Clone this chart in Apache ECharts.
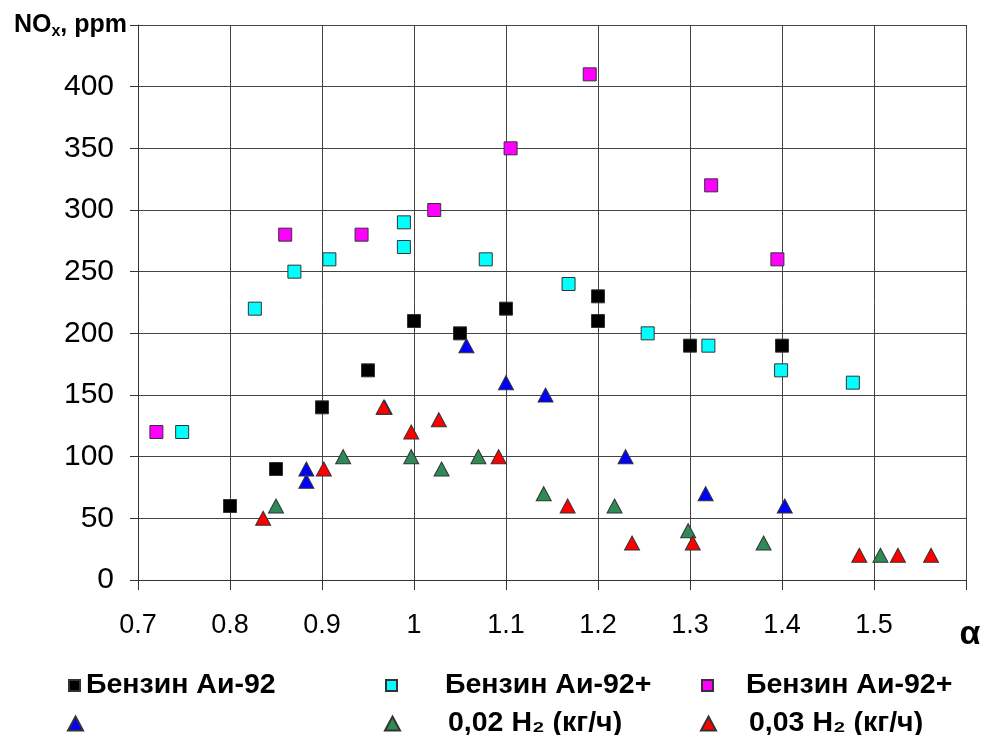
<!DOCTYPE html>
<html><head><meta charset="utf-8">
<script src="https://cdn.jsdelivr.net/npm/echarts@6/dist/echarts.min.js"></script>
<style>html,body{margin:0;padding:0;background:#fff}#c{width:987px;height:735px}</style>
</head><body><div id="c"></div>
<script>
// ---- data (alpha, NOx ppm) ----
const xMin = 0.7, xMax = 1.6, xStep = 0.1;
const yMin = 0, yMax = 450, yStep = 50;
const xTitle = 'α';

const benzin92 = [[0.80,60],[0.85,90],[0.90,140],[0.95,170],[1.00,210],[1.05,200],[1.10,220],[1.20,230],[1.20,210],[1.30,190],[1.40,190]];
const benzin92h002sq = [[0.748,120],[0.827,220],[0.870,250],[0.908,260],[0.989,290],[0.989,270],[1.078,260],[1.168,240],[1.254,200],[1.320,190],[1.399,170],[1.477,160]];
const benzin92h003sq = [[0.720,120],[0.860,280],[0.943,280],[1.022,300],[1.105,350],[1.191,410],[1.323,320],[1.395,260]];
const blueTri = [[0.883,90],[0.883,80],[0.968,140],[1.057,190],[1.100,160],[1.143,150],[1.230,100],[1.317,70],[1.403,60]];
const greenTri = [[0.850,60],[0.923,100],[0.997,100],[1.030,90],[1.070,100],[1.141,70],[1.218,60],[1.298,40],[1.380,30],[1.507,20]];
const redTri = [[0.836,50],[0.902,90],[0.967,140],[0.997,120],[1.027,130],[1.092,100],[1.167,60],[1.237,30],[1.303,30],[1.484,20],[1.526,20],[1.562,20]];

const seriesNames = ['s1','s2','s3','s4','s5','s6'];
const legendTexts = ['Бензин Аи-92','Бензин Аи-92+','Бензин Аи-92+','','0,02 H₂ (кг/ч)','0,03 H₂ (кг/ч)'];
const seriesData = [benzin92, benzin92h002sq, benzin92h003sq, blueTri, greenTri, redTri];
const seriesColors = ['#000000','#00ffff','#ff00ff','#0000ff','#2e8b57','#ff0000'];
const seriesSymbols = ['rect','rect','rect','triangle','triangle','triangle'];

// ---- chart ----
const chart = echarts.init(document.getElementById('c'), null, {renderer:'canvas'});
const sans = "'Liberation Sans',Arial,sans-serif";
const legendPos = [[63,666],[380,666],[696,666],[62,704],[379,704],[695,704]];
const legendGap = [6, 48, 33, 6, 48, 33];

const series = seriesNames.map((n,i)=>({
  name:n, type:'scatter', data:seriesData[i], symbol:seriesSymbols[i],
  symbolSize: seriesSymbols[i]==='rect' ? 13 : [15,14],
  itemStyle:{color:seriesColors[i], borderColor:'#333', borderWidth:1, opacity:1},
  emphasis:{disabled:true}, z: 2+i
}));

const legends = seriesNames.map((n,i)=>({
  data:[{name:n, icon: seriesSymbols[i]}],
  left:legendPos[i][0], top:legendPos[i][1],
  itemWidth: seriesSymbols[i]==='rect' ? 11 : 15,
  itemHeight: seriesSymbols[i]==='rect' ? 11 : 14,
  selectedMode:false,
  formatter: ()=> '{g|}{t|' + legendTexts[i] + '}',
  textStyle:{
    rich:{
      g:{width:legendGap[i]-5},
      t:{fontFamily:sans, fontWeight:'bold', fontSize:28.5, color:'#000'}
    }
  }
}));

chart.setOption({
  animation:false,
  backgroundColor:'#fff',
  grid:{left:138, right:21, top:25, bottom:155, containLabel:false},
  legend: legends,
  xAxis:{
    type:'value', min:xMin, max:xMax, interval:xStep,
    axisLine:{show:true, lineStyle:{color:'#333', width:1}},
    axisTick:{show:true, length:10, lineStyle:{color:'#333'}},
    splitLine:{show:true, lineStyle:{color:'#444', width:1}},
    axisLabel:{
      margin:32, color:'#000', fontFamily:sans, fontSize:27,
      formatter:(v)=> v > 1.55 ? '{a|'+xTitle+'}' : String(Math.round(v*10)/10),
      rich:{a:{fontSize:34, fontWeight:'bold', fontFamily:sans, padding:[6,0,0,8], color:'#000'}}
    }
  },
  yAxis:{
    type:'value', min:yMin, max:yMax, interval:yStep,
    axisLine:{show:true, lineStyle:{color:'#333', width:1}},
    axisTick:{show:true, length:8, lineStyle:{color:'#333'}},
    splitLine:{show:true, lineStyle:{color:'#444', width:1}},
    axisLabel:{
      margin:11, color:'#000', fontFamily:sans, fontSize:30,
      formatter:(v)=> v >= 449 ? '{n|NO}{s|x}{n|, ppm}' : '{v|' + v + '}',
      rich:{
        v:{fontSize:30, fontFamily:sans, color:'#000', padding:[0,13,0,0]},
        n:{fontSize:25, fontWeight:'bold', fontFamily:sans, color:'#000', lineHeight:30, verticalAlign:'middle'},
        s:{fontSize:16, fontWeight:'bold', fontFamily:sans, color:'#000', lineHeight:30, verticalAlign:'middle', padding:[14,0,0,0]}
      }
    }
  },
  series: series
});
</script>
</body></html>
